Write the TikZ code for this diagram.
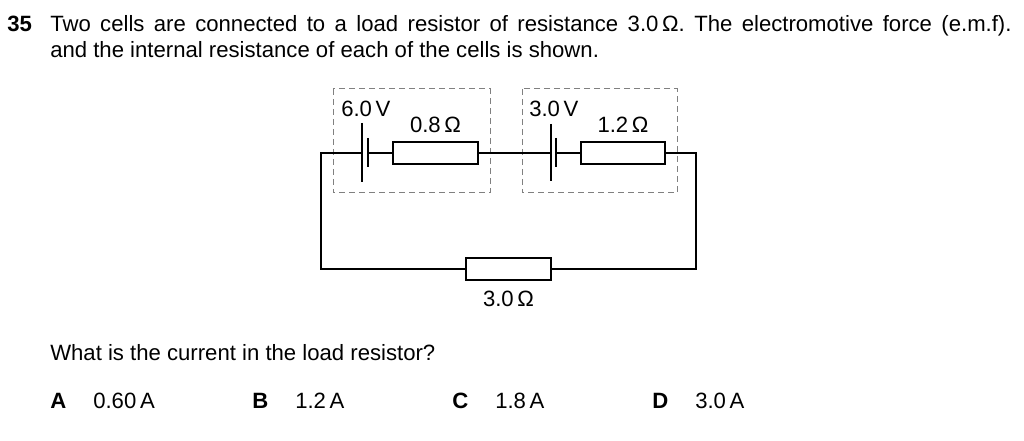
\documentclass[tikz,border=0pt]{standalone}
\usepackage{fontspec}
\setmainfont{Liberation Sans}
\usetikzlibrary{positioning}

\begin{document}
\begin{tikzpicture}[x=0.75pt, y=-0.75pt, every node/.style={font=\fontsize{16.6}{20}\selectfont, inner sep=0pt},
	txt/.style={anchor=base west},
	key/.style={anchor=base west, font=\fontsize{16.6}{20}\selectfont\bfseries},
	lbl/.style={anchor=base},
	res/.style={draw, line width=1.3pt, minimum width=63.5pt, minimum height=16pt},
	wire/.style={line width=1.1pt},
	plate/.style={line width=1pt},
	cellbox/.style={draw=black!50, line width=0.75pt, dash pattern=on 4.5pt off 3pt}]
	\useasboundingbox (0,0) rectangle (1024,441);
	\node[key] (num) at (7,32) {35};
	\node[txt] (line1) at (50,32) {\makebox[721pt][s]{Two cells are connected to a load resistor of resistance 3.0\,Ω. The electromotive force (e.m.f).}};
	\node[txt] (line2) at (50,58) {and the internal resistance of each of the cells is shown.};
	% cell boxes
	\draw[cellbox] (333,89) rectangle (490,193);
	\draw[cellbox] (522,89) rectangle (677,193);
	\node[txt] (emfA) at (341,117) {6.0\,V};
	\node[txt] (emfB) at (529,117) {3.0\,V};
	\node[res] (rA) at (435.5,153) {};
	\node[res] (rB) at (623,153) {};
	\node[res] (rL) at (508.5,269) {};
	\node[lbl, above=6.5pt of rA.north, anchor=base] (lblA) {0.8\,Ω};
	\node[lbl, above=6.5pt of rB.north, anchor=base] (lblB) {1.2\,Ω};
	\node[lbl] (lblL) at (508.5,307) {3.0\,Ω};
	% plates
	\coordinate (aL) at (362,153);
	\coordinate (aS) at (368,153);
	\coordinate (bL) at (551,153);
	\coordinate (bS) at (556,153);
	\coordinate (cnrA) at (321,153);
	\coordinate (cnrB) at (321,269);
	\coordinate (cnrC) at (696,153);
	\coordinate (cnrD) at (696,269);
	\draw[plate] (362,123) -- (362,182);
	\draw[plate] (368,138) -- (368,167);
	\draw[plate] (551,124) -- (551,181);
	\draw[plate] (556,138) -- (556,167);
	% wires
	\draw[wire] (aL) -- (cnrA) -- (cnrB) -- (rL.west);
	\draw[wire] (rL.east) -- (cnrD) -- (cnrC) -- (rB.east);
	\draw[wire] (aS) -- (rA.west);
	\draw[wire] (rA.east) -- (bL);
	\draw[wire] (bS) -- (rB.west);
	\node[txt] (ask) at (50,361) {What is the current in the load resistor?};
	\node[key] (keyA) at (50,408) {A};
	\node[txt] (ansA) at (93,408) {0.60\,A};
	\node[key] (keyB) at (252,408) {B};
	\node[txt] (ansB) at (295,408) {1.2\,A};
	\node[key] (keyC) at (452,408) {C};
	\node[txt] (ansC) at (495,408) {1.8\,A};
	\node[key] (keyD) at (652,408) {D};
	\node[txt] (ansD) at (695,408) {3.0\,A};
\end{tikzpicture}
\end{document}
